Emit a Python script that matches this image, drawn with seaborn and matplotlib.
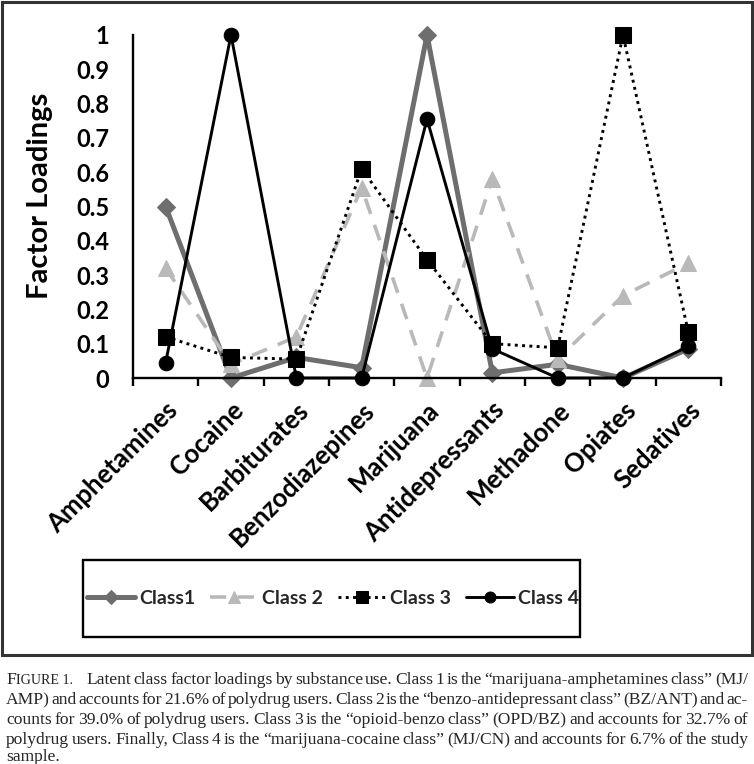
import numpy as np
import pandas as pd
import matplotlib
matplotlib.use("Agg")
import matplotlib.pyplot as plt
import seaborn as sns
from matplotlib.patches import Rectangle

################################################
# Data
################################################

substances = ["Amphetamines", "Cocaine", "Barbiturates", "Benzodiazepines",
              "Marijuana", "Antidepressants", "Methadone", "Opiates", "Sedatives"]
class1 = [0.50, 0.00, 0.06, 0.03, 1.00, 0.015, 0.04, 0.00, 0.085]
class2 = [0.32, 0.04, 0.12, 0.555, 0.00, 0.58, 0.055, 0.24, 0.335]
class3 = [0.12, 0.06, 0.055, 0.61, 0.345, 0.10, 0.088, 1.00, 0.133]
class4 = [0.045, 1.00, 0.00, 0.00, 0.755, 0.085, 0.00, 0.00, 0.092]
class_names = ["Class1", "Class 2", "Class 3", "Class 4"]

caption_lines = [
    "Latent class factor loadings by substance use. Class 1 is the \u201cmarijuana-amphetamines class\u201d (MJ/",
    "AMP) and accounts for 21.6% of polydrug users. Class 2 is the \u201cbenzo-antidepressant class\u201d (BZ/ANT) and ac-",
    "counts for 39.0% of polydrug users. Class 3 is the \u201copioid-benzo class\u201d (OPD/BZ) and accounts for 32.7% of",
    "polydrug users. Finally, Class 4 is the \u201cmarijuana-cocaine class\u201d (MJ/CN) and accounts for 6.7% of the study",
    "sample.",
]

################################################
# Figure setup
################################################

sns.set_theme(style="white")
plt.rcParams["font.family"] = ["Lato", "DejaVu Sans"]

W, H = 754, 764
fig = plt.figure(figsize=(W / 100, H / 100), dpi=100)
fig.patch.set_facecolor("white")

ax = fig.add_axes([133 / W, 1 - 378 / H, (721 - 133) / W, (378 - 35) / H])
ax.set_facecolor("white")

x = np.arange(len(substances))
series = [class1, class2, class3, class4]
styles = [
    dict(color="#6e6e6e", linewidth=3.6, linestyle="-", marker="D", markersize=9),
    dict(color="#b9b9b9", linewidth=2.6, linestyle=(0, (4.5, 3.2)), marker="^", markersize=11),
    dict(color="black", linewidth=2.1, linestyle=(0, (1, 1.5)), marker="s", markersize=11),
    dict(color="black", linewidth=2.1, linestyle="-", marker="o", markersize=10.5),
]

for vals, name, st in zip(series, class_names, styles):
    sns.lineplot(x=x, y=vals, ax=ax, label=name,
                 markeredgecolor=st["color"], markerfacecolor=st["color"],
                 clip_on=False, **st)

################################################
# Axes styling
################################################

ax.set_xlim(-0.5, len(substances) - 0.5)
ax.set_ylim(0, 1)
ax.set_yticks(np.arange(0, 1.01, 0.1))
ax.set_yticklabels(["0"] + [f"{v:.1f}" for v in np.arange(0.1, 0.95, 0.1)] + ["1"])
ax.set_xticks(x)
ax.set_xticklabels(substances, rotation=45, ha="right", rotation_mode="anchor")
ax.set_xticks(np.arange(-0.5, len(substances), 1.0), minor=True)

for side in ["top", "right"]:
    ax.spines[side].set_visible(False)
for side in ["left", "bottom"]:
    ax.spines[side].set_color("black")
    ax.spines[side].set_linewidth(1.7)

ax.tick_params(axis="y", which="major", direction="out", length=6, width=1.7,
               color="black", pad=11, labelsize=17)
ax.tick_params(axis="x", which="major", length=0, pad=14, labelsize=18.5)
ax.tick_params(axis="x", which="minor", direction="out", length=6, width=1.7,
               color="black", bottom=True)
for lab in ax.get_xticklabels() + ax.get_yticklabels():
    lab.set_fontweight("bold")
    lab.set_color("black")

ax.set_ylabel("Factor Loadings", fontsize=21, fontweight="bold", color="black")
ax.yaxis.set_label_coords(-80 / 588, 0.53)
ax.set_xlabel("")
ax.grid(False)

################################################
# Legend and outer frame
################################################

handles, labels = ax.get_legend_handles_labels()
leg = ax.legend(handles, labels, loc="center",
                bbox_to_anchor=(333 / W, 1 - 598.5 / H), bbox_transform=fig.transFigure,
                ncol=4, frameon=False,
                handlelength=2.5, handletextpad=0.2, columnspacing=0.75,
                markerscale=0.75,
                prop={"weight": "bold", "size": 14})

fig.add_artist(Rectangle((83 / W, 1 - 637 / H), (580 - 83) / W, 77 / H,
                         transform=fig.transFigure, fill=False,
                         linewidth=1.7, edgecolor="black"))
fig.add_artist(Rectangle((2 / W, 1 - 655 / H), 750 / W, 653 / H,
                         transform=fig.transFigure, fill=False,
                         linewidth=2.2, edgecolor="#333333"))

################################################
# Caption (justified, Times-like)
################################################

renderer = fig.canvas.get_renderer()
cap_font = "Liberation Serif"
cap_size = 12.6
x_left, x_right = 6, 748
line_y = [680, 700, 720, 740, 757]


def text_width(t):
    return t.get_window_extent(renderer).width


for i, line in enumerate(caption_lines):
    y = 1 - line_y[i] / H
    words = line.split(" ")
    pieces = []
    if i == 0:
        # small caps figure label
        t1 = fig.text(x_left / W, y, "F", fontsize=cap_size, family=cap_font, va="center")
        t2 = fig.text(0, y, "IGURE 1.", fontsize=cap_size * 0.8, family=cap_font, va="center")
        w1 = text_width(t1)
        t2.set_x((x_left + w1) / W)
        start = x_left + w1 + text_width(t2) + 14
    else:
        start = x_left
    for wd in words:
        t = fig.text(0, y, wd, fontsize=cap_size, family=cap_font, va="center")
        pieces.append((t, text_width(t)))
    last = i == len(caption_lines) - 1
    total = sum(w for _, w in pieces)
    if last or len(pieces) < 2:
        gap = 3.5
    else:
        gap = (x_right - start - total) / (len(pieces) - 1)
    pos = start
    for t, w in pieces:
        t.set_x(pos / W)
        pos += w + gap

fig.savefig("out.png", dpi=100, facecolor="white")
